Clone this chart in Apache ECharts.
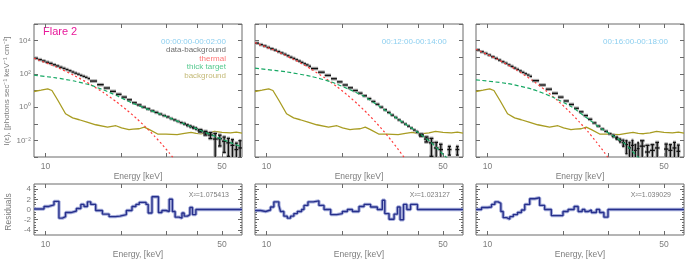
<!DOCTYPE html>
<html><head><meta charset="utf-8">
<script src="https://cdn.jsdelivr.net/npm/echarts@6/dist/echarts.min.js"></script>
<style>html,body{margin:0;padding:0;background:#fff}#c{width:689px;height:262px}</style>
</head><body><div id="c"></div>
<script>
// ---------- data ----------
const energyEdges = [9, 9.33, 9.67, 10, 10.33, 10.67, 11, 11.33, 11.67, 12, 12.33, 12.67, 13, 13.33, 13.67, 14, 14.33, 14.67,
  15, 16, 17, 18, 19, 20, 21, 22, 23, 24, 25, 26, 27, 28, 29, 30, 31, 32, 33, 34, 35, 36, 37, 38, 39, 40,
  42, 44, 46, 48, 50, 52, 54, 56, 58, 60];

const p1Val = [870, 720, 600, 500, 430, 355, 300, 250, 214, 182, 155, 129, 110, 95.5, 81, 71, 62, 52.5,
  37, 22.4, 14.1, 8.9, 5.9, 4.0, 2.75, 1.82, 1.35, 1.0, 0.78, 0.60, 0.48, 0.38, 0.31, 0.257, 0.204, 0.17, 0.138, 0.117, 0.1, 0.081, 0.069, 0.059, 0.051,
  0.038, 0.028, 0.021, 0.012, 0.0126, 0.0089, 0.0071, 0.005, 0.0028, 0.0035];
const p1Err = [0,0,0,0,0,0,0,0,0,0,0,0,0,0,0,0,0,0,
  0,0,0,0,0,0,0,0,0,0,0,0,0,0,0,0,0,0,0,0,0.005,0.005,0.005,0.005,0.005,
  0.006, 0.007, 0.008, 0.014, 0.008, 0.007, 0.006, 0.006, 0.004, 0.006];

const p2Val = [7100, 5750, 4790, 3890, 3240, 2690, 2190, 1820, 1510, 1230, 1000, 851, 708, 589, 490, 407, 347, 288,
  209, 126, 81, 51, 33, 21.4, 14.5, 10, 6.9, 4.8, 3.24, 2.19, 1.48, 1.0, 0.69, 0.48, 0.33, 0.24, 0.17, 0.126, 0.095, 0.072, 0.055, 0.042, 0.032,
  0.021, 0.012, 0.0071, 0.0035, 0.0028, null, 0.0028, null, 0.0028, null];
const p2Err = [0,0,0,0,0,0,0,0,0,0,0,0,0,0,0,0,0,0,
  0,0,0,0,0,0,0,0,0,0,0,0,0,0,0,0,0,0,0,0,0,0,0,0,0.002,
  0.003, 0.004, 0.006, 0.004, 0.003, 0, 0.0015, 0, 0.0015, 0];

const p3Val = [2750, 2140, 1700, 1350, 1070, 851, 676, 537, 437, 347, 282, 224, 186, 151, 123, 102, 85, 71,
  39, 21.4, 12, 6.8, 4.0, 2.34, 1.45, 0.85, 0.52, 0.31, 0.186, 0.112, 0.072, 0.048, 0.035, 0.025, 0.0186, 0.0138, 0.01, 0.0074, 0.0056, 0.0035, 0.005, 0.0025, 0.0032,
  0.0045, 0.002, 0.0025, 0.0035, null, 0.003, 0.0025, 0.0035, 0.0022, null];
const p3Err = [0,0,0,0,0,0,0,0,0,0,0,0,0,0,0,0,0,0,
  0,0,0,0,0,0,0,0,0,0,0,0,0,0,0,0,0.002,0.002,0.002,0.003,0.004,0.004,0.005,0.003,0.004,
  0.005, 0.003, 0.003, 0.004, 0, 0.003, 0.003, 0.004, 0.003, 0];

const thermE1 = [9, 11, 13, 15, 17, 19, 21, 23, 25, 27, 29, 31, 33];
const thermV1 = [871, 263, 79.4, 24.0, 7.24, 2.19, 0.66, 0.20, 0.060, 0.0182, 0.0055, 0.00166, 0.0005];
const thermE2 = [9, 11, 13, 15, 17, 19, 21, 23, 25, 27, 29, 31, 33, 35, 37];
const thermV2 = [7590, 2240, 661, 195, 57.5, 17.0, 5.01, 1.48, 0.437, 0.129, 0.038, 0.0112, 0.0033, 0.00098, 0.00029];
const thermE3 = [9, 11, 13, 15, 17, 19, 21, 23, 25, 27, 29, 31];
const thermV3 = [3020, 724, 174, 41.7, 10.0, 2.40, 0.575, 0.138, 0.033, 0.0079, 0.0019, 0.00046];

const thickE1 = [9, 11, 13, 15, 17, 19, 22, 26, 30, 35, 40, 47.6, 55, 60];
const thickV1 = [83.2, 57.5, 37.2, 21.4, 10.7, 5.13, 1.78, 0.646, 0.275, 0.105, 0.0468, 0.0158, 0.0066, 0.0040];
const thickE2 = [9, 12, 15, 18, 21, 24, 28, 33, 39.6, 44.7, 50.5, 53];
const thickV2 = [219, 132, 70.8, 33.1, 12.6, 5.01, 1.12, 0.20, 0.0316, 0.0079, 0.00126, 0.00063];
const thickE3 = [9, 12, 15, 18, 21.5, 25, 28, 32, 35, 39.4, 42];
const thickV3 = [43.7, 26.3, 12.0, 4.17, 1.05, 0.20, 0.056, 0.0158, 0.0063, 0.001, 0.0004];

const bgE = [9, 9.6, 10.2, 10.6, 11.2, 12, 12.8, 13.6, 14.6, 15.8, 17.6, 19, 20, 21.4, 22.2, 23.5, 24.6, 25.8, 27.8, 30, 33.2, 35.5, 37.7, 39.5, 41.5, 44, 46.7, 50, 54, 57, 60];
const bgV = [8.71, 10.5, 12.6, 10, 2.51, 0.398, 0.224, 0.174, 0.126, 0.087, 0.063, 0.076, 0.056, 0.0437, 0.048, 0.050, 0.063, 0.0447, 0.024, 0.024, 0.0219, 0.0263, 0.030, 0.0263, 0.0251, 0.0282, 0.0347, 0.030, 0.0282, 0.0316, 0.0275];

const res1E = [9, 9.86, 10.3, 10.8, 11.3, 11.66, 12.0, 12.6, 13.25, 13.8, 14.2, 14.65, 15.1, 15.8, 16.8, 17.85, 18.9, 19.7, 20.9, 22.0, 22.8, 23.5, 25.0, 25.5, 26.4, 28.0, 28.9, 30.0, 30.9, 31.8, 32.6, 33.8, 34.7, 35.4, 36.5, 37.3, 38.2, 39.4, 60];
const res1V = [0.1, 0.6, 0.9, 1.6, -1.7, -1.4, -0.6, -0.3, 0.2, 1.0, 0.6, 1.5, 1.0, -0.2, -0.9, -1.4, -1.3, -1.0, -0.2, 0.6, 1.0, 1.4, 1.0, -0.7, 2.5, -0.6, -0.2, -0.4, 2.0, -0.4, -1.5, -1.7, -0.7, -1.3, -1.0, 0.4, -1.0, 0, 0];
const res2E = [9, 9.47, 9.91, 10.37, 10.69, 11.19, 11.36, 11.71, 12.08, 12.45, 12.83, 13.24, 13.77, 14.07, 14.59, 15.32, 16.12, 16.89, 17.95, 18.95, 19.96, 20.9, 21.88, 23.24, 24.34, 25.83, 27.46, 28.74, 29.4, 30.56, 32.0, 33.0, 33.8, 34.87, 35.95, 37.2, 39.6, 60];
const res2V = [-0.2, -0.4, -0.1, 0.5, 1.5, 0.8, -0.4, -1.3, -1.7, -1.3, -0.8, -0.4, 0, 0.8, 1.5, 1.7, 0.8, 0, -1.0, -0.8, -0.4, 0, -0.4, 0.6, 1.0, 0.5, 0, 1.8, -0.8, -1.9, -0.9, 0.5, -2.0, 1.0, 0, 1.0, 0, 0];
const res3E = [9, 9.47, 10, 10.37, 10.69, 11.02, 11.29, 11.53, 11.89, 12.25, 12.64, 13.14, 13.62, 14.04, 14.69, 15.37, 16.08, 16.83, 17.89, 19.9, 20.84, 22.02, 22.85, 23.71, 24.3, 25.0, 25.78, 26.98, 27.8, 28.9, 30.0, 60];
const res3V = [0, 0.4, 0.5, 1.0, 1.5, 1.2, -0.4, -1.6, -1.9, -1.4, -1.0, -0.6, -0.1, 1.0, 2.1, 2.3, 0.8, 0, -1.2, -0.4, 0, 0.6, -0.4, 0, -0.4, -0.1, -0.6, 0, -0.6, -1.5, 0, 0];

const timeLabels = ['00:00:00-00:02:00', '00:12:00-00:14:00', '00:16:00-00:18:00'];
const chiLabels = ['X²=1.075413', 'X²=1.023127', 'X²=1.039029'];
const legendLabels = ['data-background', 'thermal', 'thick target', 'background'];
const xTicks = [10, 20, 30, 40, 50];
const xLabels = [10, 50];
const yTicksTop = [0.001, 0.01, 0.1, 1, 10, 100, 1000, 10000, 100000];
const yLabelsTop = [0.01, 1, 100, 10000];
const resTicks = [-4, -2, 0, 2, 4];
const resMinor = [-4.5, -4, -3.5, -3, -2.5, -2, -1.5, -1, -0.5, 0, 0.5, 1, 1.5, 2, 2.5, 3, 3.5, 4, 4.5];

// ---------- styling / layout ----------
const TXT = '#7c7c7c', AX = '#6a6a6a', FONT = 'Liberation Sans';
const C_TH = '#ff3b3b', C_TK = '#17a864', C_BG = '#a89c22';
const lefts = [34, 255, 476], W = 208;
const panels = [
  {val: p1Val, err: p1Err, thE: thermE1, thV: thermV1, tkE: thickE1, tkV: thickV1, rE: res1E, rV: res1V},
  {val: p2Val, err: p2Err, thE: thermE2, thV: thermV2, tkE: thickE2, tkV: thickV2, rE: res2E, rV: res2V},
  {val: p3Val, err: p3Err, thE: thermE3, thV: thermV3, tkE: thickE3, tkV: thickV3, rE: res3E, rV: res3V}
];
const supMap = {'-':'⁻','0':'⁰','1':'¹','2':'²','3':'³','4':'⁴','5':'⁵','6':'⁶','7':'⁷','8':'⁸','9':'⁹'};
function supFmt(v) { const e = Math.round(Math.log10(v)); return '10' + String(e).split('').map(c => supMap[c]).join(''); }

const grid = [], xAxis = [], yAxis = [], series = [];
function xAx(g, pos, labels) {
  xAxis.push({type: 'log', logBase: 10, gridIndex: g, min: 9, max: 60, position: pos,
    axisLine: {show: false, onZero: false}, splitLine: {show: false},
    axisTick: {show: true, inside: true, length: 4, customValues: xTicks, lineStyle: {color: AX, width: 1}},
    axisLabel: {show: labels, customValues: xLabels, margin: 5, color: TXT, fontSize: 8.5, fontFamily: FONT,
      formatter: v => String(Math.round(v))}});
  return xAxis.length - 1;
}
function yLog(g, pos, labels) {
  yAxis.push({type: 'log', logBase: 10, gridIndex: g, min: 0.001, max: 100000, position: pos,
    axisLine: {show: false}, splitLine: {show: false},
    axisTick: {show: true, inside: true, length: 4, customValues: yTicksTop, lineStyle: {color: AX, width: 1}},
    axisLabel: {show: labels, customValues: yLabelsTop, margin: 3, color: TXT, fontSize: 8, fontFamily: FONT, formatter: supFmt}});
  return yAxis.length - 1;
}
function yRes(g, pos, labels, minor) {
  yAxis.push({type: 'value', gridIndex: g, min: -5, max: 5, position: pos,
    axisLine: {show: false}, splitLine: {show: false},
    axisTick: {show: true, inside: true, length: minor ? 2 : 4, customValues: minor ? resMinor : resTicks, lineStyle: {color: AX, width: 1}},
    axisLabel: {show: labels, customValues: resTicks, margin: 3, color: TXT, fontSize: 8, fontFamily: FONT}});
  return yAxis.length - 1;
}
function renderBins(color, width) {
  return function (params, api) {
    const lo = api.value(0), hi = api.value(1), v = api.value(2), e = api.value(3);
    const a = api.coord([lo, v]), b = api.coord([hi, v]);
    const st = {stroke: color, lineWidth: width};
    const ch = [{type: 'line', shape: {x1: a[0], y1: a[1], x2: b[0], y2: b[1]}, style: st}];
    if (e > 0) {
      const c = Math.sqrt(lo * hi);
      const t = api.coord([c, v + e]);
      const low = v - e;
      const bt = api.coord([c, low > 0.001 ? low : 0.0009]);
      ch.push({type: 'line', shape: {x1: t[0], y1: t[1], x2: bt[0], y2: bt[1]}, style: st});
      ch.push({type: 'line', shape: {x1: a[0] + 0.5, y1: t[1], x2: b[0] - 0.5, y2: t[1]}, style: st});
      if (low > 0.001) ch.push({type: 'line', shape: {x1: a[0] + 0.5, y1: bt[1], x2: b[0] - 0.5, y2: bt[1]}, style: st});
    }
    return {type: 'group', children: ch};
  };
}

panels.forEach((P, p) => {
  const gTop = grid.length;
  grid.push({left: lefts[p], top: 24, width: W, height: 133, show: true, borderColor: AX, borderWidth: 1, backgroundColor: 'transparent'});
  const gRes = grid.length;
  grid.push({left: lefts[p], top: 184, width: W, height: 51, show: true, borderColor: AX, borderWidth: 1, backgroundColor: 'transparent'});

  const xb = xAx(gTop, 'bottom', true); xAx(gTop, 'top', false);
  const yl = yLog(gTop, 'left', p === 0); yLog(gTop, 'right', false);
  const xr = xAx(gRes, 'bottom', true); xAx(gRes, 'top', false);
  const yr = yRes(gRes, 'left', p === 0, false); yRes(gRes, 'left', false, true);
  yRes(gRes, 'right', false, false); yRes(gRes, 'right', false, true);

  const items = [];
  P.val.forEach((v, i) => { if (v != null) items.push([energyEdges[i], energyEdges[i + 1], v, P.err[i]]); });

  series.push({type: 'line', xAxisIndex: xb, yAxisIndex: yl, data: bgE.map((e, i) => [e, bgV[i]]),
    symbol: 'none', lineStyle: {color: C_BG, width: 1.3}, z: 2, silent: true});
  series.push({type: 'custom', xAxisIndex: xb, yAxisIndex: yl, data: items, clip: true, z: 3, silent: true,
    encode: {x: 0, y: 2}, renderItem: renderBins('#a9a9a9', 3.6)});
  series.push({type: 'custom', xAxisIndex: xb, yAxisIndex: yl, data: items, clip: true, z: 4, silent: true,
    encode: {x: 0, y: 2}, renderItem: renderBins('#111111', 1.3)});
  series.push({type: 'line', xAxisIndex: xb, yAxisIndex: yl, data: P.thE.map((e, i) => [e, P.thV[i]]), smooth: 0.2,
    symbol: 'none', lineStyle: {color: C_TH, width: 1.2, type: [2, 2.5]}, z: 5, silent: true});
  series.push({type: 'line', xAxisIndex: xb, yAxisIndex: yl, data: P.tkE.map((e, i) => [e, P.tkV[i]]), smooth: 0.2,
    symbol: 'none', lineStyle: {color: C_TK, width: 1.2, type: [4, 2.5]}, z: 6, silent: true});
  series.push({type: 'line', xAxisIndex: xr, yAxisIndex: yr, data: P.rE.map((e, i) => [e, P.rV[i]]), step: 'end',
    symbol: 'none', lineStyle: {color: '#a9b0dc', width: 3.4}, z: 3, silent: true});
  series.push({type: 'line', xAxisIndex: xr, yAxisIndex: yr, data: P.rE.map((e, i) => [e, P.rV[i]]), step: 'end',
    symbol: 'none', lineStyle: {color: '#27308c', width: 1.4}, z: 4, silent: true});
});

const txt = (x, y, text, color, size, align, extra) => Object.assign({type: 'text', x, y, silent: true,
  style: {text, fill: color, font: size + 'px "' + FONT + '"', textAlign: align, textVerticalAlign: 'middle'}}, extra || {});
const graphics = [];
graphics.push(txt(43, 32, 'Flare 2', '#e8199a', 11, 'left'));
graphics.push(txt(226, 41.7, timeLabels[0], '#8ccff0', 8, 'right'));
graphics.push(txt(446.7, 41.7, timeLabels[1], '#8ccff0', 8, 'right'));
graphics.push(txt(668, 41.7, timeLabels[2], '#8ccff0', 8, 'right'));
const legCols = ['#6f6f6f', '#ff7676', '#55c98f', '#c4ba78'];
legendLabels.forEach((l, i) => graphics.push(txt(226, 50 + i * 8.6, l, legCols[i], 8, 'right')));
lefts.forEach((L, p) => {
  graphics.push(txt(L + W / 2, 176.5, 'Energy [keV]', TXT, 8.5, 'center'));
  graphics.push(txt(L + W / 2, 255, 'Energy, [keV]', TXT, 8.5, 'center'));
  graphics.push(txt(L + 195, 195.5, chiLabels[p], TXT, 7, 'right'));
});
graphics.push(txt(7, 91, 'I(ε), [photons sec⁻¹ keV⁻¹ cm⁻²]', TXT, 8, 'center', {rotation: Math.PI / 2}));
graphics.push(txt(9, 212, 'Residuals', TXT, 8.5, 'center', {rotation: Math.PI / 2}));

const chart = echarts.init(document.getElementById('c'), null, {renderer: 'canvas'});
chart.setOption({animation: false, backgroundColor: '#ffffff', grid, xAxis, yAxis, series, graphic: graphics});
</script>
</body></html>
